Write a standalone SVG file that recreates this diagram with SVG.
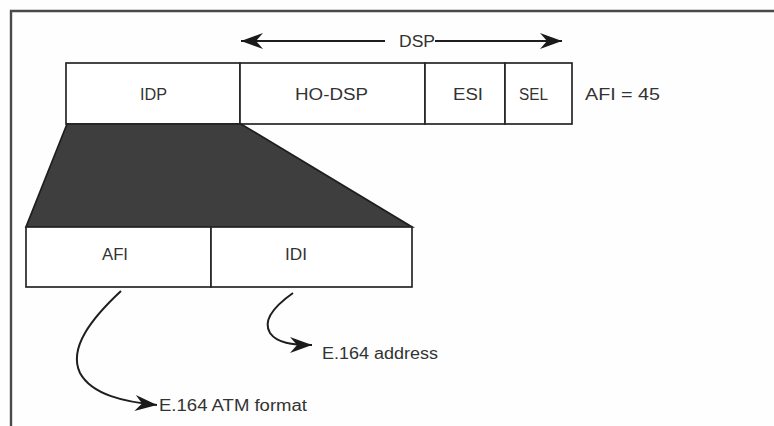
<svg xmlns="http://www.w3.org/2000/svg" width="774" height="426" viewBox="0 0 774 426">
  <defs>
    <marker id="head" markerUnits="userSpaceOnUse" markerWidth="26" markerHeight="18" refX="22" refY="8" orient="auto-start-reverse" viewBox="0 0 26 16">
      <path d="M0,0 L22,8 L0,16 L7,8 Z" fill="#1a1a1a"/>
    </marker>
    <style>
      .frame { fill: none; stroke: #4a4a4a; stroke-width: 2.4; }
      .cell { fill: #ffffff; stroke: #262626; stroke-width: 1.7; }
      .wedge { fill: #3e3e3e; stroke: #1e1e1e; stroke-width: 1.7; }
      .link { fill: none; stroke: #1e1e1e; stroke-width: 2; }
      .lbl { font-family: "Liberation Sans", Arial, sans-serif; font-size: 16px; fill: #333333; }
    </style>
  </defs>

  <rect width="774" height="426" fill="#fefefe"/>

  <!-- outer frame (top and left edges) -->
  <path class="frame" d="M11,426 L11,11 L774,11"/>

  <!-- NSAP address fields -->
  <g id="idp">
    <rect class="cell" x="66" y="63" width="174" height="61"/>
    <text class="lbl" x="140" y="100" textLength="27" lengthAdjust="spacingAndGlyphs">IDP</text>
  </g>
  <g id="ho-dsp">
    <rect class="cell" x="240" y="63" width="185" height="61"/>
    <text class="lbl" x="295" y="100" textLength="73" lengthAdjust="spacingAndGlyphs">HO-DSP</text>
  </g>
  <g id="esi">
    <rect class="cell" x="425" y="63" width="80" height="61"/>
    <text class="lbl" x="453" y="100" textLength="30" lengthAdjust="spacingAndGlyphs">ESI</text>
  </g>
  <g id="sel">
    <rect class="cell" x="505" y="63" width="67" height="61"/>
    <text class="lbl" x="519" y="100" textLength="29" lengthAdjust="spacingAndGlyphs">SEL</text>
  </g>
  <g id="afi-value">
    <text class="lbl" x="585" y="100" textLength="75" lengthAdjust="spacingAndGlyphs">AFI = 45</text>
  </g>

  <!-- IDP expansion -->
  <g id="expansion">
    <polygon class="wedge" points="67,124 241,124 412,227 26,227"/>
  </g>
  <g id="afi">
    <rect class="cell" x="26" y="227" width="185" height="60"/>
    <text class="lbl" x="102" y="260" textLength="26" lengthAdjust="spacingAndGlyphs">AFI</text>
  </g>
  <g id="idi">
    <rect class="cell" x="211" y="227" width="201" height="60"/>
    <text class="lbl" x="285" y="260" textLength="22" lengthAdjust="spacingAndGlyphs">IDI</text>
  </g>

  <!-- connectors -->
  <g id="connectors">
    <path class="link" d="M385,41 L241,41" marker-end="url(#head)"/>
    <path class="link" d="M435,41 L562,41" marker-end="url(#head)"/>
    <path class="link" d="M121,291 C92,318 68,348 80,373 C92,395 125,402 157,405" marker-end="url(#head)"/>
    <path class="link" d="M293,293 C276,305 262,320 270,333 C277,343 292,345 312,345" marker-end="url(#head)"/>
  </g>

  <g id="dsp-label">
    <text class="lbl" x="399" y="47" textLength="36" lengthAdjust="spacingAndGlyphs">DSP</text>
  </g>
  <g id="e164-address">
    <text class="lbl" x="322" y="359" textLength="116" lengthAdjust="spacingAndGlyphs">E.164 address</text>
  </g>
  <g id="e164-atm">
    <text class="lbl" x="159" y="411" textLength="148" lengthAdjust="spacingAndGlyphs">E.164 ATM format</text>
  </g>
</svg>
